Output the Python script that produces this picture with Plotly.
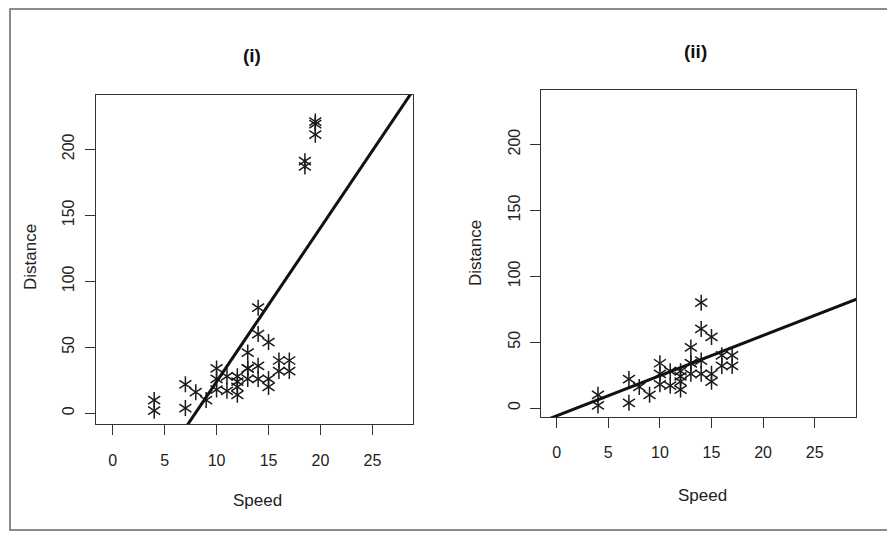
import plotly.graph_objects as go

# Base data (speed, distance) shared by both panels
speed = [4, 4, 7, 7, 8, 9, 10, 10, 10, 11, 11, 12, 12, 12, 12, 13, 13, 13, 13,
         14, 14, 14, 14, 15, 15, 15, 16, 16, 17, 17]
dist = [2, 10, 4, 22, 16, 10, 18, 26, 34, 17, 28, 14, 20, 24, 28, 26, 34, 34, 46,
        26, 36, 60, 80, 20, 26, 54, 32, 40, 32, 40]

# Extra outlying points present only in panel (i)
out_speed = [18.5, 18.5, 19.5, 19.5, 19.5]
out_dist = [191, 187, 221, 219, 211]

# Fitted lines: (intercept, slope)
fit_i = (-92.8, 11.67)
fit_ii = (-5.9, 3.05)

x_ticks = [0, 5, 10, 15, 20, 25]
y_ticks = [0, 50, 100, 150, 200]

# page body has an 8px margin; compensate so the figure fills the window
OFF = 8
W, H = 895 - OFF, 533 - OFF

def px(x):
    return (x - OFF) / W

def py(y):
    return 1 - (y - OFF) / H

fig = go.Figure()

sp1 = speed + out_speed
d1 = dist + out_dist

star_line = dict(color="#1a1a1a", width=1.5)
for xs, ys, xa, ya in [(sp1, d1, "x", "y"), (speed, dist, "x2", "y2")]:
    for sym in ["y-up-open", "y-down-open"]:
        fig.add_trace(go.Scatter(
            x=xs, y=ys, mode="markers", xaxis=xa, yaxis=ya,
            marker=dict(symbol=sym, size=10, color="#1a1a1a", line=star_line),
            showlegend=False, hoverinfo="skip"))

lx = [-5, 35]
fig.add_trace(go.Scatter(x=lx, y=[fit_i[0] + fit_i[1] * v for v in lx],
                         mode="lines", line=dict(color="#111", width=3),
                         xaxis="x", yaxis="y", showlegend=False))
fig.add_trace(go.Scatter(x=lx, y=[fit_ii[0] + fit_ii[1] * v for v in lx],
                         mode="lines", line=dict(color="#111", width=3),
                         xaxis="x2", yaxis="y2", showlegend=False))

font = dict(family="Liberation Sans, Arial, sans-serif", size=16, color="#222")

ax_common = dict(showgrid=False, zeroline=False, showline=True, mirror=True,
                 linecolor="#333", linewidth=1, ticks="outside", ticklen=10,
                 tickcolor="#333", tickfont=font)

fig.update_layout(
    width=W, height=H,
    margin=dict(l=0, r=0, t=0, b=0),
    paper_bgcolor="white", plot_bgcolor="white",
    xaxis=dict(ax_common, domain=[px(96), px(413)], range=[-1.6, 28.9],
               tickvals=x_ticks, anchor="y", ticklabelstandoff=12),
    yaxis=dict(ax_common, domain=[py(424), py(95)], range=[-8.1, 241.1],
               tickvals=y_ticks, anchor="x", tickangle=-90, ticklabelstandoff=5),
    xaxis2=dict(ax_common, domain=[px(541), px(856)], range=[-1.52, 29.0],
                tickvals=x_ticks, anchor="y2", ticklabelstandoff=11),
    yaxis2=dict(ax_common, domain=[py(417), py(90)], range=[-6.8, 241.4],
                tickvals=y_ticks, anchor="x2", tickangle=-90, ticklabelstandoff=4),
)

title_font = dict(family="Liberation Sans, Arial, sans-serif", size=19, color="#111")
lab_font = dict(family="Liberation Sans, Arial, sans-serif", size=17, color="#222")
ann = [
    dict(text="<b>(i)</b>", x=px(252), y=py(55), font=title_font),
    dict(text="<b>(ii)</b>", x=px(695), y=py(52), font=title_font),
    dict(text="Speed", x=px(257), y=py(500), font=lab_font),
    dict(text="Speed", x=px(702), y=py(495), font=lab_font),
    dict(text="Distance", x=px(30), y=py(257), font=lab_font, textangle=-90),
    dict(text="Distance", x=px(475), y=py(253), font=lab_font, textangle=-90),
]
for a in ann:
    a.update(xref="paper", yref="paper", showarrow=False,
             xanchor="center", yanchor="middle")
fig.update_layout(annotations=ann)

fig.add_shape(type="rect", xref="paper", yref="paper",
              x0=px(10), x1=px(892), y0=py(530), y1=py(9),
              line=dict(color="#666", width=1.5))

fig.write_html("out.html")
